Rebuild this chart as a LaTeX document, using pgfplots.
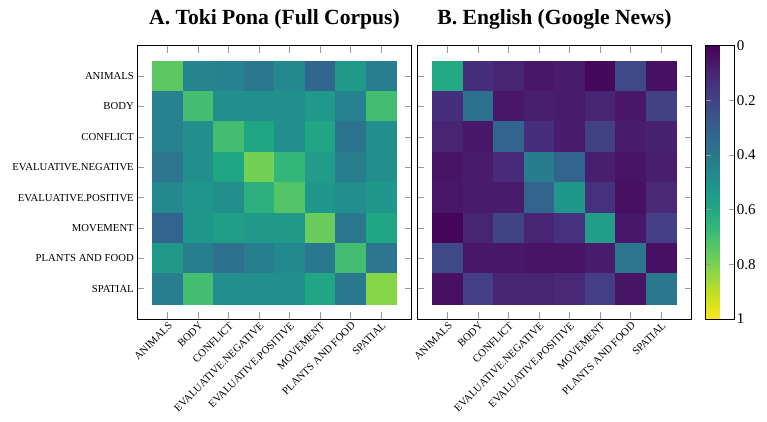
\documentclass[border=0pt]{standalone}
\usepackage{fontspec}
\setmainfont{Liberation Serif}
\usepackage{pgfplots}
\pgfplotsset{compat=1.18}

\pgfplotsset{
  simheat/.style={
    scale only axis,
    width=274.4pt, height=273.3pt,
    xmin=-1, xmax=8, ymin=-1, ymax=8,
    y dir=reverse,
    enlargelimits=false,
    xtick={0,...,7}, ytick={0,...,7},
    xtick pos=both, ytick pos=both,
    xticklabel pos=bottom, yticklabel pos=left,
    tick align=inside,
    major tick length=7pt,
    major tick style={gray!80, line width=0.6pt},
    axis line style={black, line width=0.9pt},
    colormap/viridis,
    point meta min=0, point meta max=1,
    ticklabel style={font=\fontsize{10.7}{12}\selectfont},
    xticklabel style={rotate=45, anchor=north east, inner sep=1.5pt},
    title style={font=\bfseries\fontsize{21.6}{25}\selectfont, at={(0.5,1)}, anchor=base, yshift=15.3pt},
  },
}

\newcommand{\catnames}{{ANIMALS},{BODY},{CONFLICT},{EVALUATIVE.NEGATIVE},{EVALUATIVE.POSITIVE},{MOVEMENT},{PLANTS AND FOOD},{SPATIAL}}

\begin{document}
\begin{tikzpicture}
\useasboundingbox (0,0) rectangle (767pt,421pt);

% Panel A: Toki Pona category similarity
\begin{axis}[simheat,
  at={(137.3pt,102pt)}, anchor=south west,
  title={A. Toki Pona (Full Corpus)},
  xticklabels/.expand once=\catnames,
  yticklabels/.expand once=\catnames,
]
\addplot[matrix plot*, mesh/cols=8, point meta=explicit] coordinates {
(0,0) [0.75] (1,0) [0.45] (2,0) [0.44] (3,0) [0.40] (4,0) [0.47] (5,0) [0.33] (6,0) [0.54] (7,0) [0.42]
(0,1) [0.44] (1,1) [0.70] (2,1) [0.50] (3,1) [0.50] (4,1) [0.50] (5,1) [0.54] (6,1) [0.44] (7,1) [0.70]
(0,2) [0.44] (1,2) [0.50] (2,2) [0.70] (3,2) [0.59] (4,2) [0.50] (5,2) [0.59] (6,2) [0.38] (7,2) [0.49]
(0,3) [0.39] (1,3) [0.50] (2,3) [0.59] (3,3) [0.79] (4,3) [0.66] (5,3) [0.55] (6,3) [0.43] (7,3) [0.50]
(0,4) [0.47] (1,4) [0.52] (2,4) [0.50] (3,4) [0.64] (4,4) [0.73] (5,4) [0.53] (6,4) [0.49] (7,4) [0.53]
(0,5) [0.32] (1,5) [0.53] (2,5) [0.56] (3,5) [0.54] (4,5) [0.54] (5,5) [0.77] (6,5) [0.40] (7,5) [0.59]
(0,6) [0.54] (1,6) [0.43] (2,6) [0.37] (3,6) [0.43] (4,6) [0.47] (5,6) [0.40] (6,6) [0.70] (7,6) [0.39]
(0,7) [0.42] (1,7) [0.70] (2,7) [0.49] (3,7) [0.50] (4,7) [0.50] (5,7) [0.59] (6,7) [0.40] (7,7) [0.82]
};
\end{axis}

% Panel B: English (Google News) category similarity
\begin{axis}[simheat,
  at={(417.3pt,102pt)}, anchor=south west,
  title={B. English (Google News)},
  xticklabels/.expand once=\catnames,
  yticklabels={},
  colorbar,
  colorbar style={
    at={(parent axis.north east)}, anchor=north west, xshift=5.3pt,
    scale only axis,
    width=28.7pt, height=273.3pt,
    y dir=reverse,
    ytick={0,0.2,0.4,0.6,0.8,1},
    ytick pos=both, yticklabel pos=right,
    tick align=inside,
    major tick length=5pt,
    major tick style={gray!80, line width=0.6pt},
    axis line style={black, line width=0.9pt},
    /pgf/number format/assume math mode=true,
    yticklabel style={font=\fontsize{15}{17}\selectfont, inner sep=2.5pt},
  },
]
\addplot[matrix plot*, mesh/cols=8, point meta=explicit] coordinates {
(0,0) [0.60] (1,0) [0.13] (2,0) [0.10] (3,0) [0.06] (4,0) [0.07] (5,0) [0.02] (6,0) [0.22] (7,0) [0.04]
(0,1) [0.13] (1,1) [0.37] (2,1) [0.06] (3,1) [0.08] (4,1) [0.07] (5,1) [0.10] (6,1) [0.06] (7,1) [0.19]
(0,2) [0.10] (1,2) [0.06] (2,2) [0.32] (3,2) [0.13] (4,2) [0.07] (5,2) [0.19] (6,2) [0.07] (7,2) [0.09]
(0,3) [0.05] (1,3) [0.07] (2,3) [0.12] (3,3) [0.41] (4,3) [0.32] (5,3) [0.08] (6,3) [0.05] (7,3) [0.08]
(0,4) [0.06] (1,4) [0.07] (2,4) [0.07] (3,4) [0.32] (4,4) [0.53] (5,4) [0.14] (6,4) [0.04] (7,4) [0.11]
(0,5) [0.01] (1,5) [0.10] (2,5) [0.20] (3,5) [0.10] (4,5) [0.14] (5,5) [0.56] (6,5) [0.06] (7,5) [0.18]
(0,6) [0.22] (1,6) [0.06] (2,6) [0.06] (3,6) [0.05] (4,6) [0.05] (5,6) [0.07] (6,6) [0.39] (7,6) [0.04]
(0,7) [0.04] (1,7) [0.18] (2,7) [0.10] (3,7) [0.10] (4,7) [0.11] (5,7) [0.18] (6,7) [0.05] (7,7) [0.40]
};
\end{axis}
\end{tikzpicture}
\end{document}
